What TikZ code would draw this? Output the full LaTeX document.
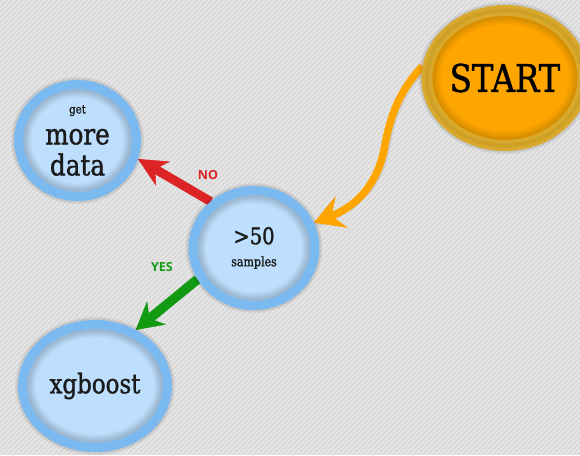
\documentclass[tikz,border=0pt]{standalone}
\usepackage{fontspec}
\setmainfont{DejaVu Serif}[FakeStretch=0.85, FakeBold=1.3]
\newfontfamily\tagfont{Open Sans}
\usetikzlibrary{shapes.geometric,arrows.meta,calc}

\definecolor{bgbase}{HTML}{D8D8D8}
\definecolor{bgstripe}{HTML}{E7E7E7}
\definecolor{ringblue}{HTML}{7BB9F1}
\definecolor{fillblue}{HTML}{BDDEFD}
\definecolor{ringgold}{HTML}{D8A92C}
\definecolor{goldshade}{HTML}{8A6400}
\definecolor{fillorange}{HTML}{FFA500}
\definecolor{noRed}{HTML}{DD2424}
\definecolor{yesGreen}{HTML}{129A12}
\definecolor{inkdark}{HTML}{1A1A1A}

\pgfdeclarelayer{backdrop}
\pgfdeclarelayer{links}
\pgfsetlayers{backdrop,links,main}

% soft band along the inside of an ellipse border (used inside path pictures)
\newcommand\rimshade[3]{%
  \draw[#3, draw opacity=#2, line width=#1]
    let \p1=(path picture bounding box.north east),
        \p2=(path picture bounding box.center) in
    (\p2) ellipse [x radius=\x1-\x2, y radius=\y1-\y2];}

\tikzset{
  bubble/.style={ellipse, inner sep=0pt, outer sep=4.5pt, fill=fillblue,
    text=inkdark, align=center,
    preaction={draw=black, draw opacity=0.06, line width=15pt},
    preaction={draw=black, draw opacity=0.06, line width=12pt},
    path picture={\rimshade{26pt}{0.03}{black}\rimshade{23pt}{0.03}{black}
      \rimshade{20pt}{0.04}{black}\rimshade{17pt}{0.04}{black}\rimshade{14pt}{0.04}{black}},
    postaction={draw=ringblue, line width=9pt}},
  startbubble/.style={ellipse, inner sep=0pt, outer sep=5.5pt, fill=fillorange,
    text=black,
    preaction={draw=black, draw opacity=0.06, line width=17pt},
    preaction={draw=black, draw opacity=0.06, line width=14pt},
    path picture={\rimshade{28pt}{0.07}{goldshade}\rimshade{24pt}{0.08}{goldshade}
      \rimshade{20pt}{0.10}{goldshade}\rimshade{16pt}{0.12}{goldshade}},
    postaction={draw=ringgold, line width=11pt},
    postaction={draw=goldshade, draw opacity=0.12, line width=4pt}},
  redlink/.style={draw=noRed, line width=9pt,
    -{Stealth[length=29pt, width=28pt, inset=9pt, line width=0.5pt]}},
  greenlink/.style={draw=yesGreen, line width=9.5pt,
    -{Stealth[length=27pt, width=30pt, inset=9pt, line width=0.5pt]}},
  orangelink/.style={draw=fillorange, line width=7.5pt,
    -{Stealth[length=30pt, width=34pt, inset=11pt, line width=0.5pt]}},
  linkshade/.style={draw=black, draw opacity=0.08, transform canvas={shift={(1.5pt,-1.5pt)}}},
  tag/.style={font=\tagfont\bfseries\fontsize{12.5}{14}\selectfont, inner sep=0pt}
}

\begin{document}
\begin{tikzpicture}[x=1pt,y=-1pt]
  \useasboundingbox (0,0) rectangle (580,455);

  % striped backdrop
  \begin{pgfonlayer}{backdrop}
    \fill[bgbase] (0,0) rectangle (580,455);
    \begin{scope}
      \clip (0,0) rectangle (580,455);
      \foreach \s in {-460,-455,...,585}
        \draw[bgstripe, line width=1.7pt] (\s,455) -- (\s+455,0);
    \end{scope}
  \end{pgfonlayer}

  % the four bubbles
  \node[startbubble, minimum width=137pt, minimum height=135pt,
        font=\fontsize{38}{40}\selectfont] (start) at (505,78) {START};
  \node[bubble, minimum width=118pt, minimum height=112pt,
        font=\fontsize{29}{31}\selectfont] (more) at (77.5,140.5)
        {{\fontsize{12}{12}\selectfont get}\\more\\data};
  \node[bubble, minimum width=122pt, minimum height=115pt,
        font=\fontsize{23}{22}\selectfont] (mid) at (254,248)
        {>50\\{\fontsize{13}{13}\selectfont samples}};
  \node[bubble, minimum width=145pt, minimum height=123pt,
        font=\fontsize{27}{29}\selectfont] (xg) at (95,386) {xgboost};

  % connectors, kept beneath the bubbles
  \begin{pgfonlayer}{links}
    \draw[linkshade, line width=7.5pt] (start.172) .. controls (400,90) and (390,115) .. (384,150)
      .. controls (378,180) and (360,205) .. (mid.23);
    \draw[orangelink] (start.172) .. controls (400,90) and (390,115) .. (384,150)
      .. controls (378,180) and (360,205) .. (mid.23);
    \draw[redlink] (mid.133) -- (more.-17);
    \draw[greenlink] (mid.209) -- (xg.54);
  \end{pgfonlayer}

  % branch labels
  \node[tag, text=noRed] (notag) at (208,175) {NO};
  \node[tag, text=yesGreen] (yestag) at (162,267) {YES};
\end{tikzpicture}
\end{document}
